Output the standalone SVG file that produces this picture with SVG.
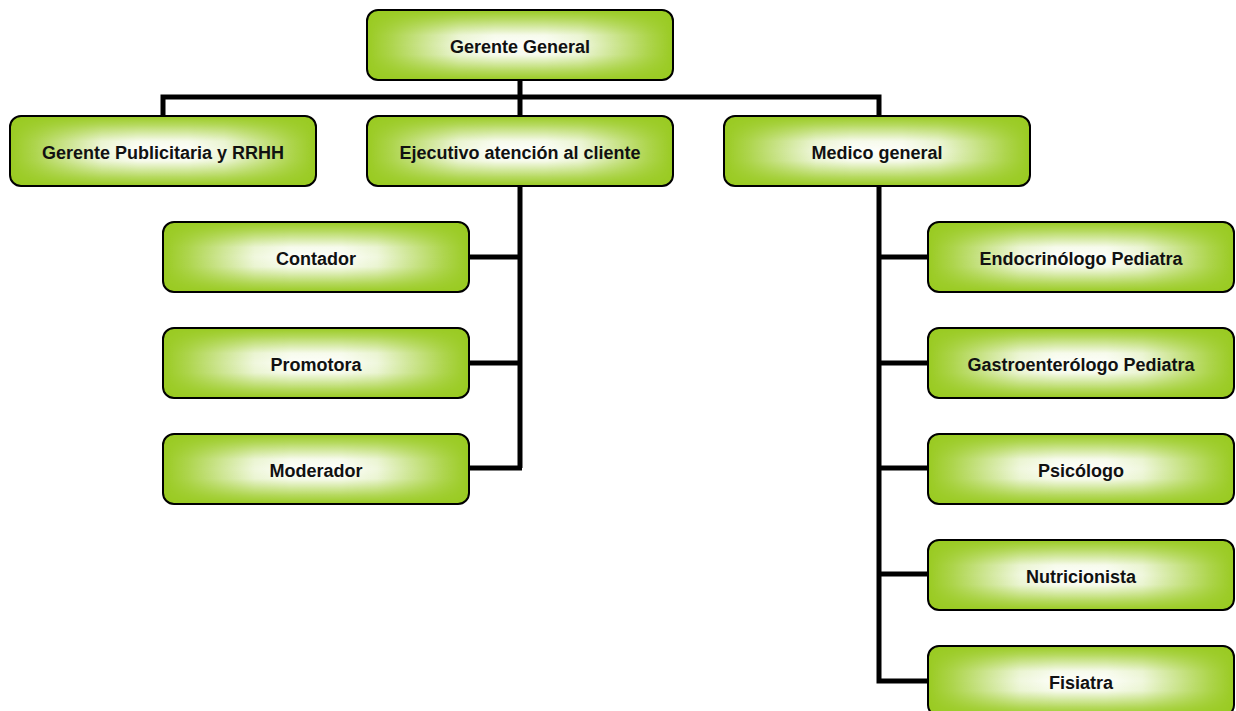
<svg xmlns="http://www.w3.org/2000/svg" width="1236" height="711" viewBox="0 0 1236 711">
<defs>
<linearGradient id="h" x1="0" y1="0" x2="1" y2="0">
<stop offset="0" stop-color="#fff" stop-opacity="0"/>
<stop offset="0.08" stop-color="#fff" stop-opacity="0.2"/>
<stop offset="0.3" stop-color="#fff" stop-opacity="0.85"/>
<stop offset="0.42" stop-color="#fff" stop-opacity="0.98"/>
<stop offset="0.58" stop-color="#fff" stop-opacity="0.98"/>
<stop offset="0.7" stop-color="#fff" stop-opacity="0.85"/>
<stop offset="0.92" stop-color="#fff" stop-opacity="0.2"/>
<stop offset="1" stop-color="#fff" stop-opacity="0"/>
</linearGradient>
<linearGradient id="v" x1="0" y1="0" x2="0" y2="1">
<stop offset="0" stop-color="#000"/>
<stop offset="0.12" stop-color="#444"/>
<stop offset="0.36" stop-color="#eee"/>
<stop offset="0.5" stop-color="#fff"/>
<stop offset="0.64" stop-color="#eee"/>
<stop offset="0.88" stop-color="#444"/>
<stop offset="1" stop-color="#000"/>
</linearGradient>
<mask id="m" maskContentUnits="objectBoundingBox">
<rect x="0" y="0" width="1" height="1" fill="url(#v)"/>
</mask>
<symbol id="bx" viewBox="0 0 306 70" width="306" height="70" overflow="visible">
<rect x="0" y="0" width="306" height="70" rx="11" fill="#9acb22"/>
<rect x="0" y="0" width="306" height="70" rx="11" fill="url(#h)" mask="url(#m)"/>
<rect x="0" y="0" width="306" height="70" rx="11" fill="none" stroke="#000" stroke-width="2"/>
</symbol>
</defs>
<style>
.lbl{font-family:"Liberation Sans",Arial,sans-serif;font-weight:bold;font-size:18px;fill:#111;text-anchor:middle;dominant-baseline:central}
.ln{stroke:#000;stroke-width:5;fill:none}
</style>
<rect width="1236" height="711" fill="#fff"/>
<g id="connectors">
<path class="ln" d="M520 80V97M163 116V97H879V116M520 97V116"/>
<path class="ln" d="M520 186V468M468 257H520M468 363H520M468 468H522"/>
<path class="ln" d="M879 186V681H928M879 257H928M879 363H928M879 468H928M879 574H928"/>
</g>
<g id="n-gerente-general"><use href="#bx" x="367" y="10"/><text class="lbl" x="520" y="47">Gerente General</text></g>
<g id="n-gerente-publicitaria"><use href="#bx" x="10" y="116"/><text class="lbl" x="163" y="153">Gerente Publicitaria y RRHH</text></g>
<g id="n-ejecutivo"><use href="#bx" x="367" y="116"/><text class="lbl" x="520" y="153">Ejecutivo atención al cliente</text></g>
<g id="n-medico"><use href="#bx" x="724" y="116"/><text class="lbl" x="877" y="153">Medico general</text></g>
<g id="n-contador"><use href="#bx" x="163" y="222"/><text class="lbl" x="316" y="259">Contador</text></g>
<g id="n-promotora"><use href="#bx" x="163" y="328"/><text class="lbl" x="316" y="365">Promotora</text></g>
<g id="n-moderador"><use href="#bx" x="163" y="434"/><text class="lbl" x="316" y="471">Moderador</text></g>
<g id="n-endocrinologo"><use href="#bx" x="928" y="222"/><text class="lbl" x="1081" y="259">Endocrinólogo Pediatra</text></g>
<g id="n-gastro"><use href="#bx" x="928" y="328"/><text class="lbl" x="1081" y="365">Gastroenterólogo Pediatra</text></g>
<g id="n-psicologo"><use href="#bx" x="928" y="434"/><text class="lbl" x="1081" y="471">Psicólogo</text></g>
<g id="n-nutricionista"><use href="#bx" x="928" y="540"/><text class="lbl" x="1081" y="577">Nutricionista</text></g>
<g id="n-fisiatra"><use href="#bx" x="928" y="646"/><text class="lbl" x="1081" y="683">Fisiatra</text></g>
</svg>
